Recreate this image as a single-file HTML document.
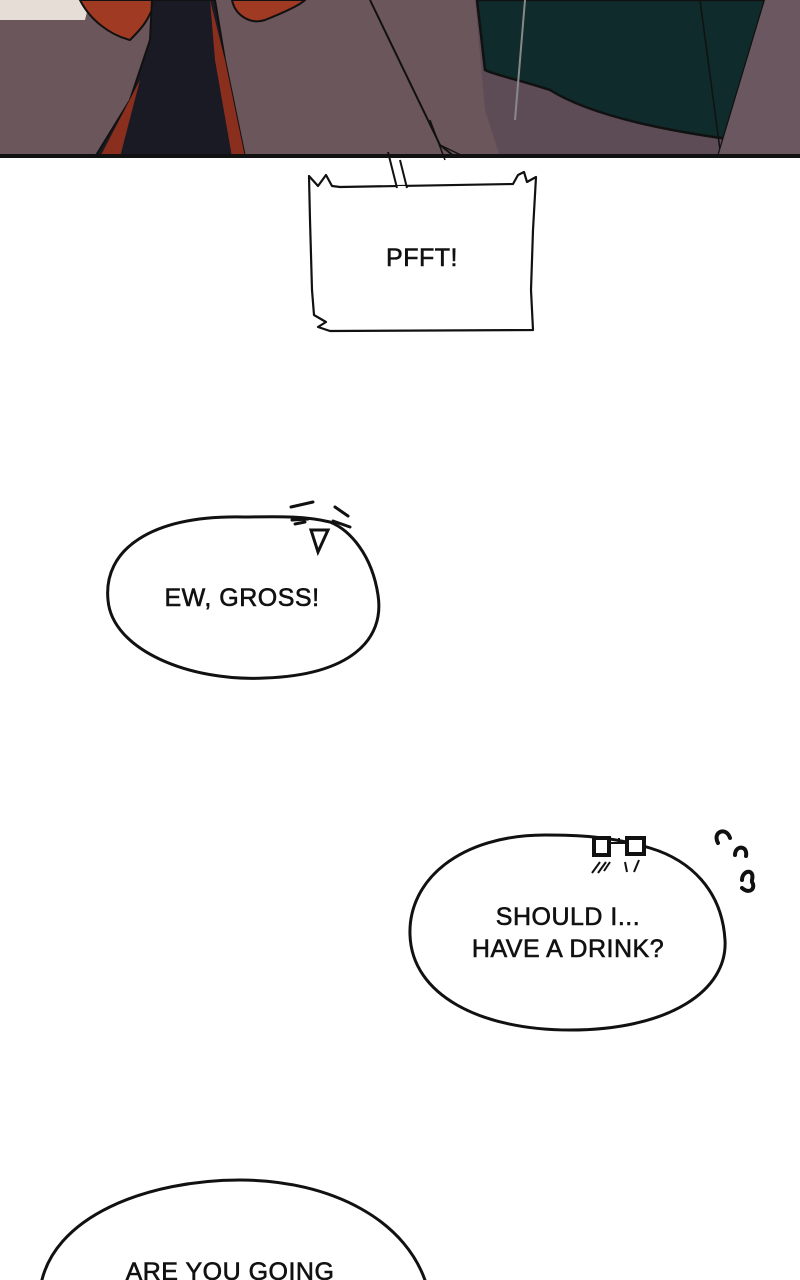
<!DOCTYPE html>
<html><head><meta charset="utf-8"><style>
html,body{margin:0;padding:0;background:#fff;}
body{width:800px;height:1280px;overflow:hidden;position:relative;}
svg{position:absolute;left:0;top:0;}
.t{font-family:"Liberation Sans",sans-serif;font-size:25px;fill:#111;text-anchor:middle;letter-spacing:0.5px;stroke:#111;stroke-width:0.6;}
</style></head><body>
<svg width="800" height="1280" viewBox="0 0 800 1280">
<!-- top panel -->
<rect x="0" y="0" width="800" height="157" fill="#6b565c"/>
<path d="M0 0 H90 L85 20 L0 20 Z" fill="#e6ddd6"/>
<path d="M80 0 C90 20 110 35 130 40 C140 30 150 20 155 0 Z" fill="#a03a22" stroke="#111" stroke-width="2"/>
<path d="M232 0 C235 15 250 25 265 20 C285 12 300 5 305 0 Z" fill="#a03a22" stroke="#111" stroke-width="2"/>
<path d="M152 0 L215 0 L225 60 L245 157 L95 157 L130 100 L150 40 Z" fill="#1a1a24" stroke="#111" stroke-width="2"/>
<path d="M210 0 L225 60 L245 157 L232 157 L215 60 Z" fill="#8a2e1e"/>
<path d="M140 80 L120 157 L100 157 Z" fill="#8a2e1e"/>
<path d="M370 0 L440 145 L455 157" fill="none" stroke="#111" stroke-width="2"/>
<path d="M440 145 L465 157 M445 160 L430 120" fill="none" stroke="#111" stroke-width="1.5"/>
<path d="M475 0 H765 L720 157 L500 157 L485 110 Z" fill="#5d4c56"/>
<path d="M477 0 H765 L735 140 C660 130 590 115 550 90 C520 80 495 75 485 70 Z" fill="#0f2b2b" stroke="#111" stroke-width="2.5"/>
<path d="M525 0 L515 120" stroke="#888" stroke-width="2" fill="none"/>
<path d="M700 0 L720 150" stroke="#111" stroke-width="1.5" fill="none"/>
<path d="M765 0 L718 157" stroke="#111" stroke-width="2.5" fill="none"/>
<path d="M765 0 H800 V157 H718 Z" fill="#6a5760"/>
<rect x="0" y="154" width="800" height="4" fill="#111"/>
<!-- PFFT box -->
<path d="M309 176 L318 186 L326 175 L332 186 L340 187 L513 184 L518 175 L524 172 L527 182 L536 177 L533 230 L531 290 L533 330 L330 331 L318 327 L326 322 L314 315 L312 290 L310 220 Z" fill="#fff" stroke="#111" stroke-width="2.2" stroke-linejoin="round"/>
<path d="M396 188 L407 188" stroke="#fff" stroke-width="4"/>
<path d="M388 152 L397 188 M407 188 L400 160" fill="none" stroke="#111" stroke-width="2"/>
<text class="t" x="422" y="266">PFFT!</text>
<!-- EW GROSS -->
<path d="M244 517 C150 515 103 550 108 600 C112 650 190 682 265 678 C350 675 385 640 378 595 C372 555 350 530 330 522 C300 515 270 517 244 517 Z" fill="#fff" stroke="#111" stroke-width="3"/>
<path d="M291 507 L313 502 M292 520 L308 519 M295 524 L305 522 M311 530 L328 530 L318 552 Z M335 507 L348 516 M333 521 L350 527" stroke="#111" stroke-width="3" fill="none" stroke-linecap="round"/>
<text class="t" x="242" y="606">EW, GROSS!</text>
<!-- SHOULD I -->
<path d="M545 835 C460 835 408 880 410 935 C412 995 480 1030 570 1030 C670 1030 728 990 725 940 C722 890 690 860 650 848 C610 836 575 835 545 835 Z" fill="#fff" stroke="#111" stroke-width="3"/>
<rect x="594" y="838" width="15" height="17" fill="#fff" stroke="#111" stroke-width="4"/>
<rect x="627" y="838" width="17" height="16" fill="#fff" stroke="#111" stroke-width="4"/>
<path d="M609 843 L627 843 M619 838 V842 M592 873 L600 862 M598 873 L606 862 M604 871 L610 862 M625 862 L627 872 M639 860 L634 872" stroke="#111" stroke-width="2" fill="none"/>
<path d="M718 843 C712 832 726 826 730 838 M735 855 C735 845 748 845 746 856 M742 880 C742 870 755 868 752 880 M742 888 C750 895 756 888 752 882" stroke="#111" stroke-width="4" fill="none" stroke-linecap="round"/>
<text class="t" x="568" y="925">SHOULD I...</text>
<text class="t" x="568" y="957">HAVE A DRINK?</text>
<!-- bottom bubble -->
<path d="M40 1290 C50 1215 150 1180 240 1180 C330 1180 410 1220 428 1290" fill="#fff" stroke="#111" stroke-width="3"/>
<text class="t" x="230" y="1280">ARE YOU GOING</text>
</svg>
</body></html>
